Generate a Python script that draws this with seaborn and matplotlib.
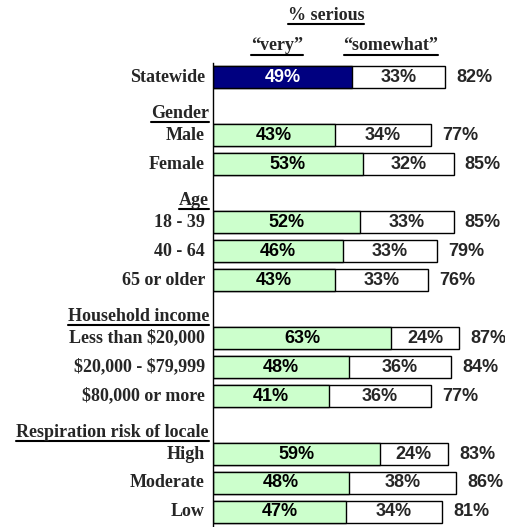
import numpy as np
import pandas as pd
import seaborn as sns
import matplotlib.pyplot as plt
from matplotlib.lines import Line2D
from matplotlib.transforms import IdentityTransform, blended_transform_factory

# rows in display order, headers carry no values
rows = ["Statewide", "Gender", "Male", "Female", "Age", "18 - 39", "40 - 64",
        "65 or older", "Household income", "Less than $20,000",
        "$20,000 - $79,999", "$80,000 or more", "Respiration risk of locale",
        "High", "Moderate", "Low"]
headers = ["Gender", "Age", "Household income", "Respiration risk of locale"]

groups = ["Statewide", "Male", "Female", "18 - 39", "40 - 64", "65 or older",
          "Less than $20,000", "$20,000 - $79,999", "$80,000 or more",
          "High", "Moderate", "Low"]
very = [49, 43, 53, 52, 46, 43, 63, 48, 41, 59, 48, 47]
somewhat = [33, 34, 32, 33, 33, 33, 24, 36, 36, 24, 38, 34]
total = [82, 77, 85, 85, 79, 76, 87, 84, 77, 83, 86, 81]

df = pd.DataFrame({"row": groups, "very": very, "somewhat": somewhat, "total": total})

sns.set_style("white")
plt.rcParams["text.parse_math"] = False
fig = plt.figure(figsize=(5.06, 5.27), dpi=100)
ax = fig.add_axes([213 / 506, 0.001, 283 / 506, 0.880])

green = "#CCFFCC"
navy = "#000080"
pal = {g: (navy if g == "Statewide" else green) for g in groups}

# stacked look: total bar in white, "very" drawn over it
sns.barplot(data=df, x="total", y="row", order=rows, color="white",
            edgecolor="black", linewidth=1, width=0.76, saturation=1, ax=ax)
sns.barplot(data=df, x="very", y="row", order=rows, hue="row", palette=pal,
            edgecolor="black", linewidth=1, width=0.76, saturation=1,
            legend=False, ax=ax)

ax.set_xlim(0, 100)
ax.set_ylim(15.5, -0.5)
ax.set_xlabel("")
ax.set_ylabel("")
ax.set_xticks([])
ax.set_yticks([])
for s in ["top", "right", "bottom"]:
    ax.spines[s].set_visible(False)
ax.spines["left"].set_color("black")
ax.spines["left"].set_linewidth(1)

sans = ["Liberation Sans", "DejaVu Sans"]
serif = ["Liberation Serif", "DejaVu Serif"]
fs = 13

# value labels
for i, r in df.iterrows():
    y = rows.index(r["row"])
    c = "white" if r["row"] == "Statewide" else "black"
    ax.text(r["very"] / 2, y, f"{r['very']}%", ha="center", va="center",
            fontsize=fs, fontweight="bold", family=sans, color=c)
    ax.text(r["very"] + r["somewhat"] / 2, y, f"{r['somewhat']}%", ha="center",
            va="center", fontsize=fs, fontweight="bold", family=sans)
    ax.text(r["total"] + 4, y, f"{r['total']}%", ha="left", va="center",
            fontsize=fs, fontweight="bold", family=sans)

# row labels
trans = blended_transform_factory(fig.transFigure, ax.transData)
underlined = []
for y, lab in enumerate(rows):
    if lab in headers:
        t = fig.text(209 / 506, y + 0.25, lab, ha="right", va="center",
                     fontsize=fs, fontweight="bold", family=serif,
                     transform=trans)
        underlined.append(t)
    else:
        fig.text(205 / 506, y, lab, ha="right", va="center", fontsize=fs,
                 fontweight="bold", family=serif, transform=trans)

# column headers
t1 = fig.text(326 / 506, 1 - 15 / 527, "% serious", ha="center", va="center",
              fontsize=fs, fontweight="bold", family=serif)
t2 = fig.text(277 / 506, 1 - 46 / 527, "\u201cvery\u201d", ha="center",
              va="center", fontsize=fs, fontweight="bold", family=serif)
t3 = fig.text(391 / 506, 1 - 46 / 527, "\u201csomewhat\u201d", ha="center",
              va="center", fontsize=fs, fontweight="bold", family=serif)
underlined += [t1, t2, t3]

fig.canvas.draw()
renderer = fig.canvas.get_renderer()
for t in underlined:
    bb = t.get_window_extent(renderer)
    fig.add_artist(Line2D([bb.x0, bb.x1], [bb.y0, bb.y0],
                          transform=IdentityTransform(), color="black", lw=1.5))

fig.savefig("out.png", dpi=100)
